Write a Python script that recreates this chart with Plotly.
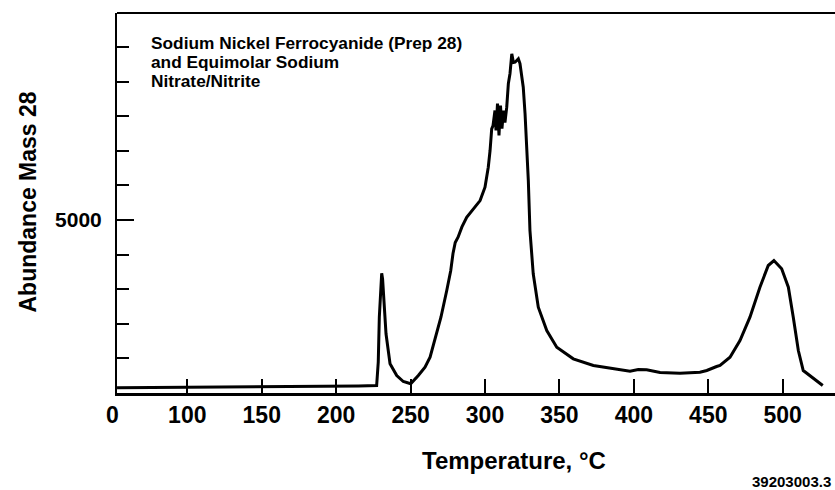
import plotly.graph_objects as go

# ---- data (temperature in degC, abundance of mass 28) ----
temperature = [52.8, 75, 100, 125, 150, 175, 200, 215, 227.2, 228.3, 229.0, 230.0, 230.6, 231.2,
               231.7, 233.5, 236.2, 240.7, 245.1, 250.1, 255.2, 259.7, 263.1, 266.0, 270.4,
               274.3, 277.0, 278.5, 280.0, 281.9, 284.5, 287.7, 292.0, 296.7, 300.0, 302.2,
               303.4, 304.5, 305.4, 306.7, 307.4, 308.4, 309.4, 310.4, 311.4, 312.4, 313.4,
               314.6, 315.7, 316.8, 318.0, 319.1, 320.2, 322.4, 323.5, 325.7, 326.9, 328.0,
               329.1, 330.2, 332.4, 335.8, 341.5, 348.2, 359.3, 372.8, 386.2, 397.4, 403.0,
               408.6, 417.6, 431.0, 444.4, 449.0, 455.6, 457.9, 464.6, 471.3, 478.0, 484.7,
               490.3, 494.1, 499.3, 503.8, 507.1, 510.5, 513.8, 520.6, 526.9]
abundance = [150, 155, 160, 165, 175, 185, 195, 205, 217, 900, 2190, 3300, 3462, 3300,
             2962, 1711, 844, 506, 332, 266, 506, 746, 1035, 1500, 2190,
             2962, 3540, 4032, 4350, 4502, 4800, 5080, 5320, 5560, 5948, 6526,
             7008, 7635, 7731, 8164, 7586, 8367, 7442, 8309, 7644, 8164, 7817,
             8260, 8945, 9234, 9803, 9552, 9560, 9658, 9523, 8838, 8078, 7104,
             6141, 4696, 3445, 2480, 1806, 1324, 988, 795, 699, 630, 679,
             670, 592, 572, 601, 650, 766, 795, 1035, 1517, 2191, 3058,
             3685, 3829, 3589, 3058, 2191, 1228, 650, 439, 217]

x_tick_vals = [100, 150, 200, 250, 300, 350, 400, 450, 500]
x_tick_text = ["100", "150", "200", "250", "300", "350", "400", "450", "500"]
x_first_label_val = 50
x_first_label_text = "0"
y_major_vals = [5000]
y_major_text = ["5000"]
y_minor_vals = [1000, 2000, 3000, 4000, 6000, 7000, 8000, 9000, 10000]

label_lines = ["Sodium Nickel Ferrocyanide (Prep 28)",
               "and Equimolar Sodium",
               "Nitrate/Nitrite"]
x_title = "Temperature, °C"
y_title = "Abundance Mass 28"
figure_id = "39203003.3"

# ---- geometry ----
W, H = 835, 490
ML, MR, MT, MB = 117, 0, 13, 97
plot_w = W - ML - MR
plot_h = H - MT - MB
PX_PER_DEG = 1.4885
X100_PX = 187.3
x_min = 100 - (X100_PX - ML) / PX_PER_DEG
x_max = x_min + plot_w / PX_PER_DEG
PX_PER_1000 = 34.6
y_max = plot_h / PX_PER_1000 * 1000

def px_to_paper_x(px):
    return (px - ML) / plot_w

def px_to_paper_y(py):
    return (H - MB - py) / plot_h

FONT = "Liberation Sans, Arial, Helvetica, sans-serif"

fig = go.Figure()
fig.add_trace(go.Scatter(x=temperature, y=abundance, mode="lines",
                         line=dict(color="black", width=3), showlegend=False,
                         hoverinfo="skip"))

fig.update_layout(
    width=W, height=H,
    margin=dict(l=ML, r=MR, t=MT, b=MB, pad=0),
    paper_bgcolor="white", plot_bgcolor="white",
    font=dict(family=FONT, color="black"),
    xaxis=dict(range=[x_min, x_max], showgrid=False, zeroline=False,
               showline=True, linecolor="black", linewidth=2.5,
               tickmode="array", tickvals=x_tick_vals, ticktext=x_tick_text,
               ticks="inside", ticklen=14, tickwidth=2, tickcolor="black",
               tickfont=dict(size=23, family=FONT, weight="bold", color="black")),
    yaxis=dict(range=[0, y_max], showgrid=False, zeroline=False,
               showline=True, linecolor="black", linewidth=2,
               tickmode="array", tickvals=y_major_vals, ticktext=y_major_text,
               ticks="inside", ticklen=17, tickwidth=2, tickcolor="black",
               ticklabelstandoff=9,
               tickfont=dict(size=21, family=FONT, weight="bold", color="black"),
               minor=dict(tickmode="array", tickvals=y_minor_vals, ticks="inside",
                          ticklen=12, tickwidth=2, tickcolor="black", showgrid=False)),
)

# top frame line of the plot area
fig.add_shape(type="line", xref="paper", yref="paper", x0=0, x1=1, y0=1, y1=1,
              line=dict(color="black", width=2))

ann = []
# label "0" at the start of the temperature axis
ann.append(dict(text=x_first_label_text, xref="paper", yref="paper",
                x=px_to_paper_x(ML + (x_first_label_val - x_min) * PX_PER_DEG),
                y=px_to_paper_y(414.5), xanchor="center", yanchor="middle",
                showarrow=False, font=dict(size=23, family=FONT, weight="bold")))
# inset label
for i, line in enumerate(label_lines):
    ann.append(dict(text=line, xref="paper", yref="paper",
                    x=px_to_paper_x(148.5), y=px_to_paper_y(43 + 19.2 * i),
                    xanchor="left", yanchor="middle", showarrow=False,
                    font=dict(size=17.3, family=FONT, weight="bold")))
ann.append(dict(text=x_title, xref="paper", yref="paper",
                x=px_to_paper_x(514), y=px_to_paper_y(460),
                xanchor="center", yanchor="middle", showarrow=False,
                font=dict(size=24, family=FONT, weight="bold")))
ann.append(dict(text=y_title, xref="paper", yref="paper",
                x=px_to_paper_x(27.5), y=px_to_paper_y(202),
                xanchor="center", yanchor="middle", textangle=-90, showarrow=False,
                font=dict(size=23, family=FONT, weight="bold")))
ann.append(dict(text=figure_id, xref="paper", yref="paper",
                x=px_to_paper_x(833), y=px_to_paper_y(481),
                xanchor="right", yanchor="middle", showarrow=False,
                font=dict(size=15, family=FONT, weight="bold")))
fig.update_layout(annotations=ann)

fig.write_html("out.html")
